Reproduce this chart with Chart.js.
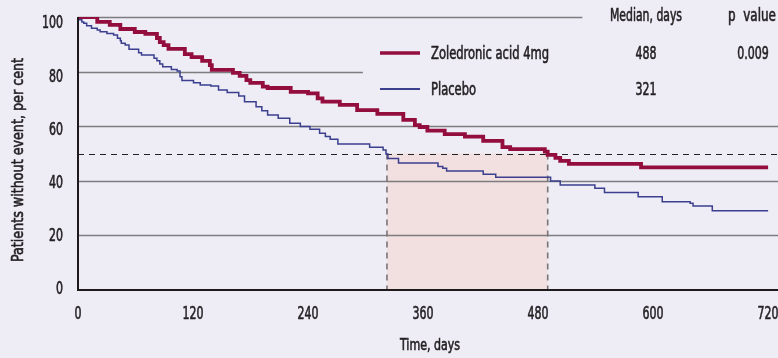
<!DOCTYPE html>
<html>
<head>
<meta charset="utf-8">
<script src="https://cdn.jsdelivr.net/npm/chart.js@4.4.0/dist/chart.umd.min.js"></script>
<style>
  html, body { margin: 0; padding: 0; background: #eeedf6; }
  #wrap { width: 778px; height: 358px; }
</style>
</head>
<body>
<div id="wrap"><canvas id="km" width="778" height="358"></canvas></div>
<script>
// Kaplan-Meier steps: day of each drop, survival after it
var zolDays = [0, 20, 33, 44, 59, 70, 82, 85, 89, 94, 111, 118, 129, 137, 139, 161, 168, 175, 179, 192, 197, 221, 239, 249, 254, 272, 290, 311, 338, 350, 355, 363, 381, 402, 421, 441, 449, 485, 488, 496, 501, 510, 585, 717];
var zolPct = [100, 98.2, 97.1, 95.6, 94.5, 93.8, 92.3, 90.8, 89.7, 88.3, 86.4, 85.3, 83.9, 82.4, 80.6, 79.5, 78.4, 76.9, 75.9, 74.5, 74.0, 72.6, 72.0, 70.2, 69.0, 67.8, 65.9, 64.5, 62.3, 60.4, 59.7, 58.4, 57.1, 56.2, 54.6, 52.3, 51.6, 50.7, 49.5, 48.4, 47.3, 46.2, 44.9, 44.9];

var plaDays = [0, 4, 6, 9, 14, 20, 23, 30, 37, 41, 44, 45, 49, 53, 63, 66, 79, 82, 85, 88, 97, 103, 106, 108, 120, 127, 138, 146, 155, 167, 173, 185, 191, 197, 208, 220, 231, 241, 251, 257, 262, 270, 303, 317, 320, 322, 333, 374, 379, 383, 421, 434, 491, 501, 537, 547, 582, 607, 636, 639, 659, 717];
var plaPct = [99, 98.2, 97.7, 96.8, 95.9, 95.2, 94.6, 94.0, 93.4, 92.2, 91.3, 90.4, 89.7, 88.2, 86.9, 86.1, 84.9, 84.0, 82.8, 81.8, 80.8, 80.2, 78.1, 76.7, 75.9, 75.1, 74.7, 73.3, 72.3, 71.1, 69.0, 67.1, 65.7, 64.1, 62.9, 61.1, 59.9, 58.9, 57.4, 56.2, 55.2, 53.5, 52.3, 51.3, 49.8, 48.2, 46.5, 45.2, 44.6, 43.6, 42.4, 41.3, 39.9, 38.5, 37.3, 35.7, 34.2, 32.3, 31.8, 30.8, 29.0, 29.0];

var seriesNames = ['Zoledronic acid 4mg', 'Placebo'];
var seriesColors = ['#930d3d', '#3b3f8e'];
var medians = [488, 321];
var pValues = ['0.009', ''];
var xTicks = [0, 120, 240, 360, 480, 600, 720];
var yTicks = [0, 20, 40, 60, 80, 100];
var xTitle = 'Time, days';
var yTitle = 'Patients without event, per cent';
// how far (in days) each horizontal rule runs; null = to the edge
var ruleEnds = { 100: 524, 80: 296, 60: null, 40: null, 20: null };

var FONT = "'DejaVu Sans Condensed', 'Liberation Sans Narrow', sans-serif";
var INK = '#231f22';

function pts(xs, ys) {
  return xs.map(function (x, i) { return { x: x, y: ys[i] }; });
}

// squeeze factor so that `sample` at `size` px is `w` px wide (the original face is very narrow)
function squeeze(c, sample, size, w) {
  c.font = size + 'px ' + FONT;
  return w / c.measureText(sample).width;
}

function txt(c, s, x, y, align, size, sx, rot) {
  c.save();
  c.font = size + 'px ' + FONT;
  c.fillStyle = INK;
  c.strokeStyle = INK;
  c.lineWidth = 0.6;
  c.textAlign = align;
  c.textBaseline = 'middle';
  c.translate(x, y);
  if (rot) c.rotate(rot);
  c.scale(sx, 1);
  c.fillText(s, 0, 0);
  c.strokeText(s, 0, 0);
  c.restore();
}

var decor = {
  id: 'decor',
  beforeDatasetsDraw: function (chart) {
    var c = chart.ctx, xs = chart.scales.x, ys = chart.scales.y;
    var W = chart.width;
    c.save();
    // median box
    var xa = xs.getPixelForValue(medians[1]), xb = xs.getPixelForValue(medians[0]);
    var y50 = ys.getPixelForValue(50), y0 = ys.getPixelForValue(0);
    c.fillStyle = '#f2dfe0';
    c.fillRect(xa, y50, xb - xa, y0 - y50);
    // rules
    c.strokeStyle = '#7d7d80';
    c.lineWidth = 1.6;
    Object.keys(ruleEnds).forEach(function (k) {
      var y = Math.round(ys.getPixelForValue(+k)) + 0.5;
      var xe = ruleEnds[k] == null ? W : xs.getPixelForValue(ruleEnds[k]);
      c.beginPath(); c.moveTo(xs.left, y); c.lineTo(xe, y); c.stroke();
    });
    // dashed median
    c.setLineDash([6, 5]);
    c.strokeStyle = '#222';
    c.lineWidth = 1.2;
    c.beginPath(); c.moveTo(xs.left, Math.round(y50) + 0.5); c.lineTo(W, Math.round(y50) + 0.5); c.stroke();
    c.strokeStyle = '#7a7478';
    c.lineWidth = 1.6;
    [xa, xb].forEach(function (x) {
      c.beginPath(); c.moveTo(x, y50); c.lineTo(x, y0); c.stroke();
    });
    c.restore();
  },
  afterDatasetsDraw: function (chart) {
    var c = chart.ctx, xs = chart.scales.x, ys = chart.scales.y;
    c.save();
    // axes
    c.strokeStyle = '#1e1a1c';
    c.lineWidth = 2;
    c.beginPath();
    c.moveTo(xs.left, ys.top);
    c.lineTo(xs.left, ys.bottom);
    c.lineTo(chart.width, ys.bottom);
    c.stroke();
    c.restore();

    // tick labels
    var tsx = squeeze(c, '100', 17, 21);
    yTicks.forEach(function (v) {
      txt(c, String(v), 63, ys.getPixelForValue(v) + 7 * v / 100, 'right', 17, tsx);
    });
    xTicks.forEach(function (v) {
      txt(c, String(v), xs.getPixelForValue(v) - 3 * v / 720, 315, 'center', 17, tsx);
    });
    // axis titles
    txt(c, xTitle, 430, 346, 'center', 16, squeeze(c, xTitle, 16, 60));
    txt(c, yTitle, 19, 160, 'center', 16, squeeze(c, yTitle, 16, 204), -Math.PI / 2);

    // legend table
    var lsx = squeeze(c, seriesNames[0], 17, 118);
    txt(c, 'Median, days', 646, 17, 'center', 17, squeeze(c, 'Median, days', 17, 72));
    txt(c, 'p  value', 752, 17, 'center', 17, squeeze(c, 'p  value', 17, 48));
    var rows = [55, 91];
    seriesNames.forEach(function (n, i) {
      c.save();
      c.strokeStyle = seriesColors[i];
      c.lineWidth = i === 0 ? 3.5 : 1.8;
      c.beginPath(); c.moveTo(380, rows[i] - 2); c.lineTo(420, rows[i] - 2); c.stroke();
      c.restore();
      txt(c, n, 431, rows[i], 'left', 17, lsx);
      txt(c, String(medians[i]), 646, rows[i], 'center', 17, tsx);
      if (pValues[i]) txt(c, pValues[i], 753, rows[i], 'center', 17, tsx);
    });
  }
};

new Chart(document.getElementById('km'), {
  type: 'line',
  data: {
    datasets: [
      { label: seriesNames[0], data: pts(zolDays, zolPct), borderColor: seriesColors[0], borderWidth: 3.8, stepped: true, pointRadius: 0 },
      { label: seriesNames[1], data: pts(plaDays, plaPct), borderColor: seriesColors[1], borderWidth: 1.5, stepped: true, pointRadius: 0 }
    ]
  },
  options: {
    responsive: false,
    animation: false,
    layout: { padding: { top: 17, right: 7, left: 0, bottom: 0 } },
    plugins: { legend: { display: false }, tooltip: { enabled: false } },
    scales: {
      x: {
        type: 'linear', min: 0, max: 720,
        afterBuildTicks: function (s) { s.ticks = xTicks.map(function (v) { return { value: v }; }); },
        afterFit: function (s) { s.height = 68; s.paddingLeft = 0; s.paddingRight = 0; },
        grid: { display: false, drawTicks: false },
        border: { display: false },
        ticks: { display: false }
      },
      y: {
        min: 0, max: 100,
        afterBuildTicks: function (s) { s.ticks = yTicks.map(function (v) { return { value: v }; }); },
        afterFit: function (s) { s.width = 78; s.paddingTop = 0; s.paddingBottom = 0; },
        grid: { display: false, drawTicks: false },
        border: { display: false },
        ticks: { display: false }
      }
    }
  },
  plugins: [decor]
});
</script>
</body>
</html>
